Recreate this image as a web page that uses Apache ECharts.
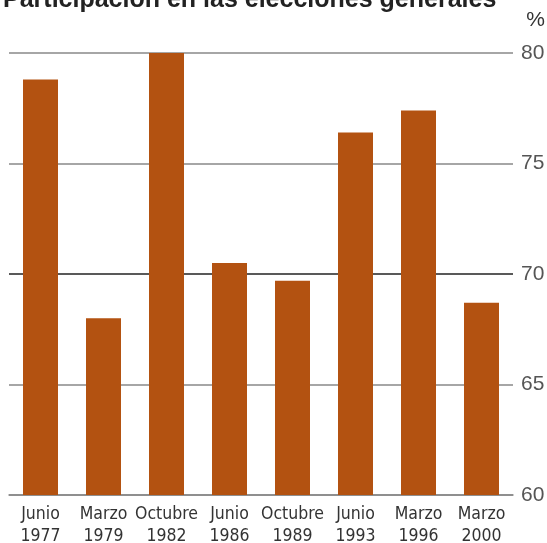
<!DOCTYPE html>
<html>
<head>
<meta charset="utf-8">
<script src="https://cdn.jsdelivr.net/npm/echarts@6/dist/echarts.min.js"></script>
<style>html,body{margin:0;padding:0;background:#fff}#c{width:547px;height:543px}</style>
</head>
<body>
<div id="c"></div>
<script>
const categories = ['Junio\n1977','Marzo\n1979','Octubre\n1982','Junio\n1986','Octubre\n1989','Junio\n1993','Marzo\n1996','Marzo\n2000'];
const turnout = [78.8, 68.0, 80.0, 70.5, 69.7, 76.4, 77.4, 68.7];
const titleText = 'Participación en las elecciones generales';
const unitText = '%';

const chart = echarts.init(document.getElementById('c'), null, {renderer: 'canvas'});
chart.setOption({
  backgroundColor: '#fff',
  animation: false,
  title: {
    text: titleText, left: -2, top: -17,
    textStyle: {fontFamily: 'Liberation Sans', fontWeight: 'bold', fontSize: 25, color: '#222'}
  },
  graphic: [{
    type: 'text', right: 2, top: 10,
    style: {text: unitText, fontFamily: 'Liberation Sans', fontSize: 21, fill: '#333'}
  }],
  grid: {left: 9, right: 34, top: 53, bottom: 48, containLabel: false, outerBoundsMode: 'none'},
  xAxis: {
    type: 'category', data: categories,
    axisLine: {show: true, lineStyle: {color: '#888', width: 1.5}},
    axisTick: {show: false},
    axisLabel: {interval: 0, margin: 8, fontFamily: '"Liberation Sans Narrow", "DejaVu Sans Condensed", "Roboto Condensed", sans-serif', fontSize: 17.5, lineHeight: 22, color: '#333'}
  },
  yAxis: {
    type: 'value', position: 'right', min: 60, max: 80, interval: 5,
    axisLine: {show: false}, axisTick: {show: false},
    axisLabel: {margin: 8, fontFamily: 'Liberation Sans', fontSize: 21, color: '#555'},
    splitLine: {show: true, lineStyle: {color: ['#888','#888','#222','#888','#888'], width: 1.5}}
  },
  series: [{
    type: 'bar', data: turnout, barWidth: 35, z: 10, zlevel: 1,
    itemStyle: {color: '#B35211'}
  }]
});
</script>
</body>
</html>
